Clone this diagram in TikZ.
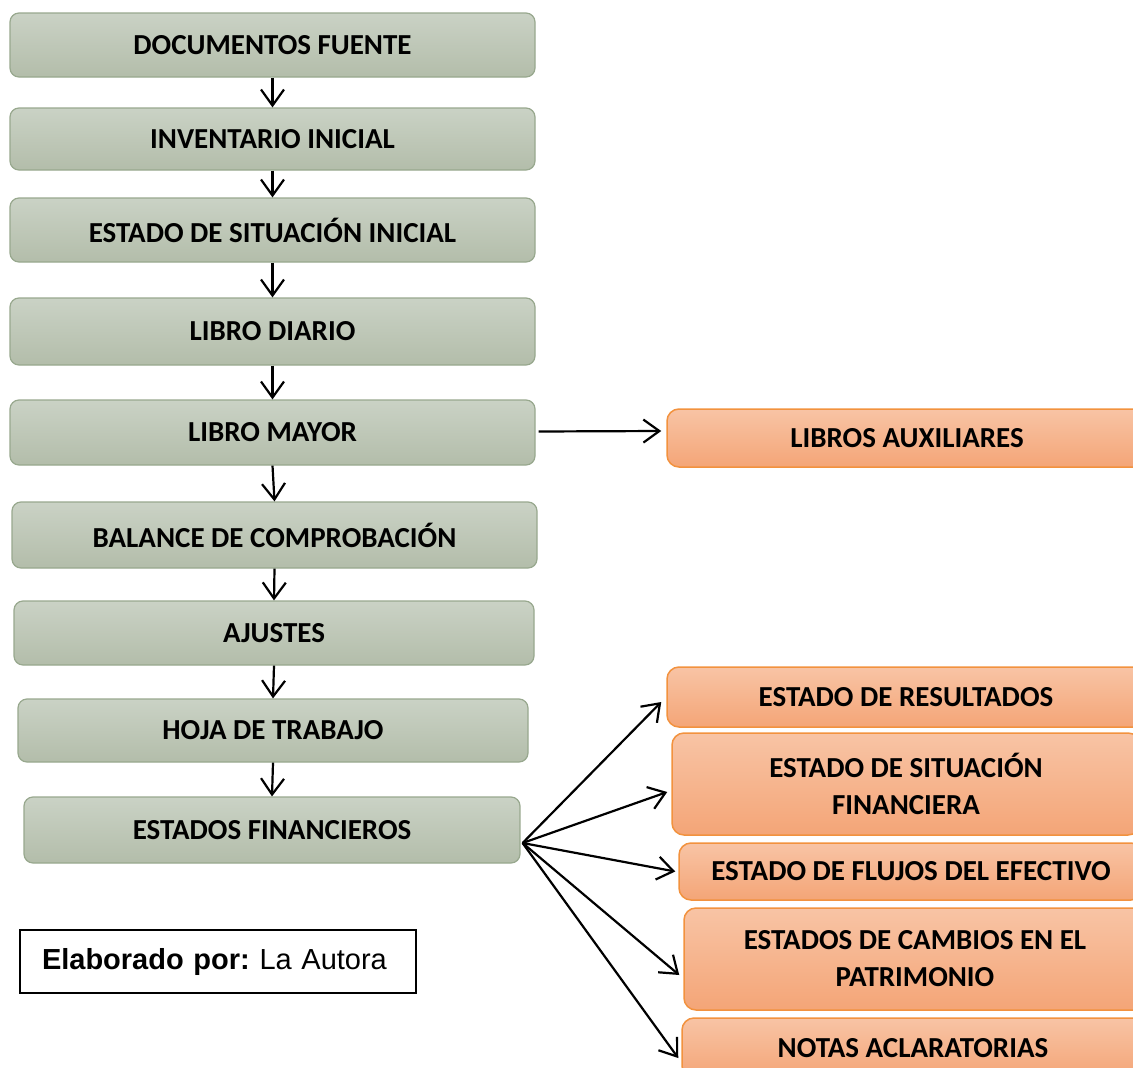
\documentclass[tikz,border=0pt]{standalone}
\usepackage{fontspec}
\setmainfont{Carlito}
\newfontfamily\arialfont{Liberation Sans}
\usetikzlibrary{arrows.meta, calc}
\frenchspacing
\definecolor{cgtop}{HTML}{CAD2C5}
\definecolor{cgbot}{HTML}{B3BDAA}
\definecolor{cgline}{HTML}{98A88E}
\definecolor{cotop}{HTML}{F8C4A5}
\definecolor{cobot}{HTML}{F4A577}
\definecolor{coline}{HTML}{F2923E}
\tikzset{
  gbox/.style={draw=cgline, top color=cgtop, bottom color=cgbot, rounded corners=9pt, line width=1.2pt,
    align=center, inner sep=0pt, minimum width=525pt, font=\fontsize{29}{37}\selectfont\bfseries},
  obox/.style={draw=coline, top color=cotop, bottom color=cobot, rounded corners=12pt, line width=1.5pt,
    align=center, inner sep=0pt, font=\fontsize{29}{37}\selectfont\bfseries},
  arrow/.style={-{Straight Barb[length=16pt, width=23pt]}, line width=2.2pt},
  note/.style={draw, line width=2.2pt, minimum width=396pt, minimum height=63pt, text width=352pt,
    inner xsep=22pt, align=left, font=\arialfont\fontsize{29}{35}\selectfont},
}
\begin{document}
\begin{tikzpicture}[x=1pt, y=-1pt]
  \useasboundingbox (0,0) rectangle (1133,1068);
  \clip (0,0) rectangle (1133,1068);
  % main column
  \node[gbox, minimum height=64pt] (fuente) at (272.5,45) {DOCUMENTOS FUENTE};
  \node[gbox, minimum height=62pt] (inventario) at (272.5,139) {INVENTARIO INICIAL};
  \node[gbox, minimum height=64pt] (situacion) at (272.5,230) {ESTADO DE SITUACIÓN INICIAL};
  \node[gbox, minimum height=67pt] (diario) at (272.5,331.5) {LIBRO DIARIO};
  \node[gbox, minimum height=65pt] (mayor) at (272.5,432.5) {LIBRO MAYOR};
  \node[gbox, minimum height=66pt] (balance) at (274.5,535) {BALANCE DE COMPROBACIÓN};
  \node[gbox, minimum height=64pt, minimum width=520pt] (ajustes) at (274,633) {AJUSTES};
  \node[gbox, minimum height=63pt, minimum width=510pt] (hoja) at (273,730.5) {HOJA DE TRABAJO};
  \node[gbox, minimum height=66pt, minimum width=496pt] (financieros) at (272,830) {ESTADOS FINANCIEROS};
  % right column
  \node[obox, minimum width=480pt, minimum height=58pt] (auxiliares) at (907,438) {LIBROS AUXILIARES};
  \node[obox, minimum width=478pt, minimum height=60pt] (resultados) at (906,697) {ESTADO DE RESULTADOS};
  \node[obox, minimum width=468pt, minimum height=102pt] (sitfin) at (906,784) {ESTADO DE SITUACIÓN\\FINANCIERA};
  \node[obox, minimum width=464pt, minimum height=57pt] (flujos) at (911,871.5) {ESTADO DE FLUJOS DEL EFECTIVO};
  \node[obox, minimum width=462pt, minimum height=102pt] (cambios) at (915,959) {ESTADOS DE CAMBIOS EN EL\\PATRIMONIO};
  \node[obox, minimum width=462pt, minimum height=60pt] (notas) at (913,1048) {NOTAS ACLARATORIAS};
  % source note
  \node[note] (autora) at (218,961.5) {\textbf{Elaborado por:} La Autora};
  % connectors
  \foreach \a/\b in {fuente/inventario, inventario/situacion, situacion/diario, diario/mayor,
    mayor/balance, balance/ajustes, ajustes/hoja, hoja/financieros}
    \draw[arrow] (\a.south) -- (\b.north);
  \draw[arrow] ($(mayor.east)+(3,-1)$) -- ($(auxiliares.west)+(-5,-7)$);
  \coordinate (hub) at ($(financieros.east)+(2,13)$);
  \foreach \t/\dx/\dy in {resultados/-5/5, sitfin/-4/8, flujos/-3/0, cambios/-4/16, notas/-3/10}
    \draw[arrow] (hub) -- ($(\t.west)+(\dx,\dy)$);
\end{tikzpicture}
\end{document}
